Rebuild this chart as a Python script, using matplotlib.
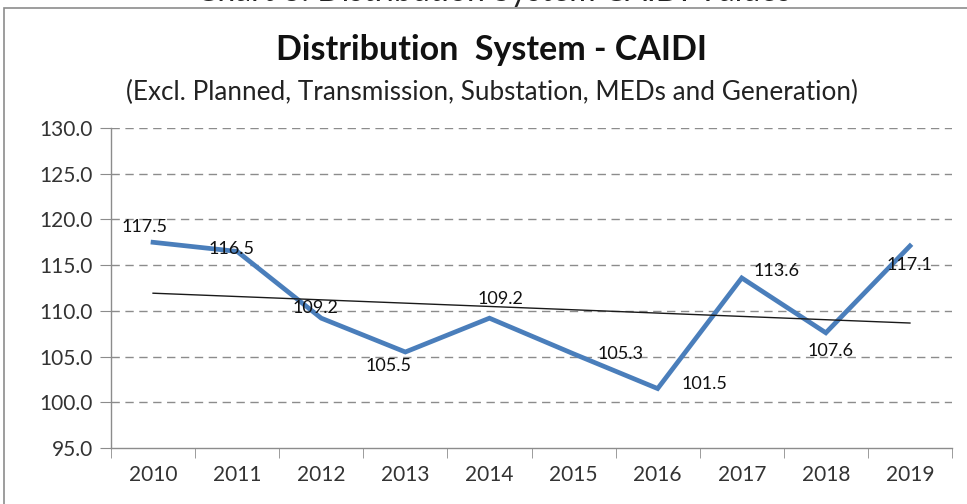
import numpy as np
import matplotlib
matplotlib.use("Agg")
import matplotlib.pyplot as plt
from matplotlib.patches import Rectangle

plt.rcParams['font.family'] = ['Lato', 'DejaVu Sans']

years = ['2010', '2011', '2012', '2013', '2014', '2015', '2016', '2017', '2018', '2019']
caidi = [117.5, 116.5, 109.2, 105.5, 109.2, 105.3, 101.5, 113.6, 107.6, 117.1]
y_ticks = [95.0, 100.0, 105.0, 110.0, 115.0, 120.0, 125.0, 130.0]

title = "Distribution  System - CAIDI"
subtitle = "(Excl. Planned, Transmission, Substation, MEDs and Generation)"
caption = "Chart 3: Distribution System CAIDI Values"

# label offsets (points) to roughly follow the original data label placement
label_offsets = [(-6, 11), (-4, 2), (-4, 7), (-12, -10), (8, 14), (34, 0),
                 (34, 3), (25, 5), (3, -13), (0, -14)]

fig = plt.figure(figsize=(9.67, 5.04), dpi=100)

# cropped caption above the chart frame, only its lowest pixels show
fig.text(0.51, 1.0 - 1 / 504, caption, ha='center', va='baseline',
         fontsize=23, color='#222222')

# chart frame
fig.patches.append(Rectangle((4 / 967, -0.2), 1.2, 1.2 - 8 / 504,
                             transform=fig.transFigure, fill=False,
                             edgecolor='#8c8c8c', linewidth=1.2))

ax = fig.add_axes([111 / 967, 1 - 448 / 504, (952 - 111) / 967, (448 - 128) / 504])

x = np.arange(len(years))
ax.plot(x, caidi, color='#4a7ebb', linewidth=3.4, solid_joinstyle='miter', zorder=3)

# linear trendline
coef = np.polyfit(x, caidi, 1)
ax.plot(x, np.polyval(coef, x), color='#1a1a1a', linewidth=1.0, zorder=4)

for xi, v, off in zip(x, caidi, label_offsets):
    ax.annotate(f"{v:.1f}", (xi, v), xytext=off, textcoords='offset points',
                ha='center', va='center', fontsize=13, color='#111111', zorder=5)

ax.set_xlim(-0.5, len(years) - 0.5)
ax.set_ylim(95, 130)
ax.set_yticks(y_ticks)
ax.set_yticklabels([f"{t:.1f}" for t in y_ticks])
ax.set_xticks(x)
ax.set_xticklabels(years)
ax.set_xticks(np.arange(-0.5, len(years)), minor=True)

for t in y_ticks[1:]:
    ax.axhline(t, color='#8c8c8c', linewidth=1.0, linestyle=(0, (6, 4)), zorder=1)

for s in ['top', 'right']:
    ax.spines[s].set_visible(False)
for s in ['left', 'bottom']:
    ax.spines[s].set_color('#8c8c8c')
    ax.spines[s].set_linewidth(1.0)

ax.tick_params(axis='y', length=8, color='#8c8c8c', labelsize=15, labelcolor='#333333', pad=5)
ax.tick_params(axis='x', which='major', length=0, labelsize=15, labelcolor='#333333', pad=12)
ax.tick_params(axis='x', which='minor', length=7, color='#8c8c8c')

fig.text(0.508, 1 - 50 / 504, title, ha='center', va='center',
         fontsize=24.5, fontweight='bold', color='#111111')
fig.text(0.509, 1 - 92 / 504, subtitle, ha='center', va='center',
         fontsize=18.8, color='#222222')

fig.savefig('out.png', dpi=100)
